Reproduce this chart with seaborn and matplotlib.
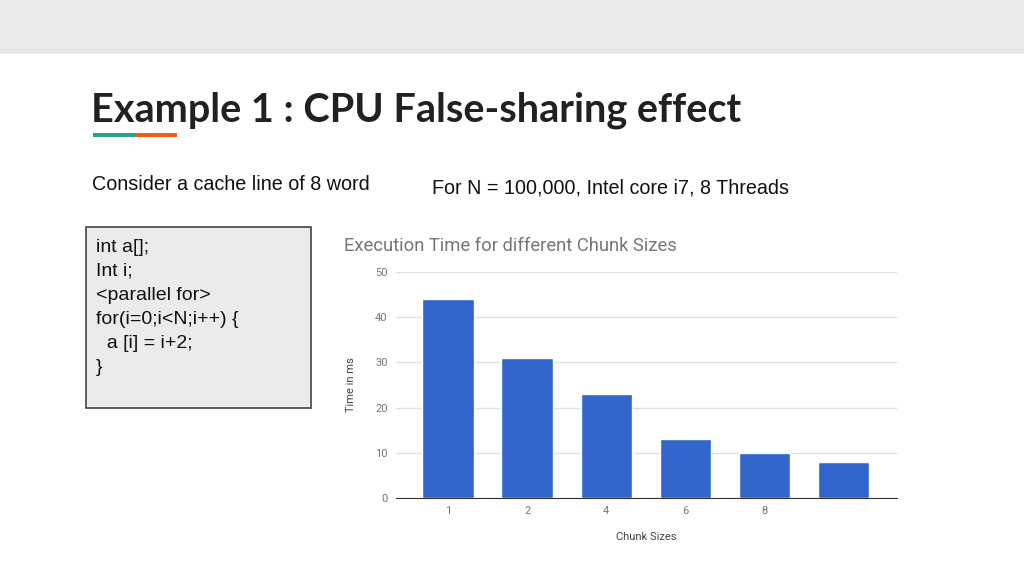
import matplotlib.pyplot as plt
import pandas as pd
import seaborn as sns
from matplotlib.patches import Rectangle

# chart data
chunk_labels = ['1', '2', '4', '6', '8', '']
chunk_keys = ['c1', 'c2', 'c4', 'c6', 'c8', 'c10']
times_ms = [44, 31, 23, 13, 10, 8]

code_lines = ['int a[];', 'Int i;', '<parallel for>', 'for(i=0;i<N;i++) {', '  a [i] = i+2;', '}']

df = pd.DataFrame({'chunk': chunk_keys, 'time': times_ms})

sns.set_style('white')
plt.rcParams['font.family'] = ['Liberation Sans', 'DejaVu Sans']

fig = plt.figure(figsize=(10.24, 5.76), dpi=100)

# slide decoration
fig.add_artist(Rectangle((0, 1 - 54 / 576), 1, 54 / 576, transform=fig.transFigure,
                         facecolor='#e8e9ea', edgecolor='none'))
fig.text(91 / 1024, 1 - 110 / 576, 'Example 1 : CPU False-sharing effect', fontsize=28.5,
         fontweight='bold', family='Lato', color='#212121', va='center', ha='left')
fig.add_artist(Rectangle((93 / 1024, 1 - 137 / 576), 42 / 1024, 4 / 576, transform=fig.transFigure,
                         facecolor='#25a18c', edgecolor='none'))
fig.add_artist(Rectangle((135 / 1024, 1 - 137 / 576), 42 / 1024, 4 / 576, transform=fig.transFigure,
                         facecolor='#ee6011', edgecolor='none'))

fig.text(92 / 1024, 1 - 185 / 576, 'Consider a cache line of 8 word', fontsize=14.2,
         color='#111111', va='center', ha='left')
fig.text(432 / 1024, 1 - 188 / 576, 'For N = 100,000, Intel core i7, 8 Threads', fontsize=14.2,
         color='#111111', va='center', ha='left')

# code box
fig.add_artist(Rectangle((86 / 1024, 1 - 408 / 576), 225 / 1024, 181 / 576, transform=fig.transFigure,
                         facecolor='#ebebeb', edgecolor='#444444', linewidth=1.2))
for i, line in enumerate(code_lines):
    fig.text(96 / 1024, 1 - (247 + 24 * i) / 576, line, fontsize=14,
             color='#111111', va='center', ha='left')

# bar chart
ax = fig.add_axes([396 / 1024, 78 / 576, 501 / 1024, 226 / 576])
sns.barplot(data=df, x='chunk', y='time', color='#3366cc', saturation=1, width=0.65, ax=ax)
ax.set_xlim(-0.66, 5.68)
ax.set_ylim(0, 50)
ax.set_yticks([0, 10, 20, 30, 40, 50])
ax.set_xticks(range(len(chunk_labels)))
ax.set_xticklabels(chunk_labels)
ax.yaxis.grid(True, color='#e0e0e0', linewidth=1)
ax.set_axisbelow(True)
for s in ['top', 'right', 'left']:
    ax.spines[s].set_visible(False)
ax.spines['bottom'].set_color('#333333')
ax.tick_params(axis='both', length=0, labelsize=8, labelcolor='#757575', pad=6)
ax.set_xlabel('Chunk Sizes', fontsize=8, color='#444444', family='Roboto', labelpad=11)
ax.set_ylabel('Time in ms', fontsize=8, color='#444444', family='Roboto', labelpad=14)
for lbl in ax.get_xticklabels() + ax.get_yticklabels():
    lbl.set_family('Roboto')

fig.text(344 / 1024, 1 - 246 / 576, 'Execution Time for different Chunk Sizes', fontsize=13.2,
         family='Roboto', color='#757575', va='center', ha='left')

fig.savefig('out.png', dpi=100)
